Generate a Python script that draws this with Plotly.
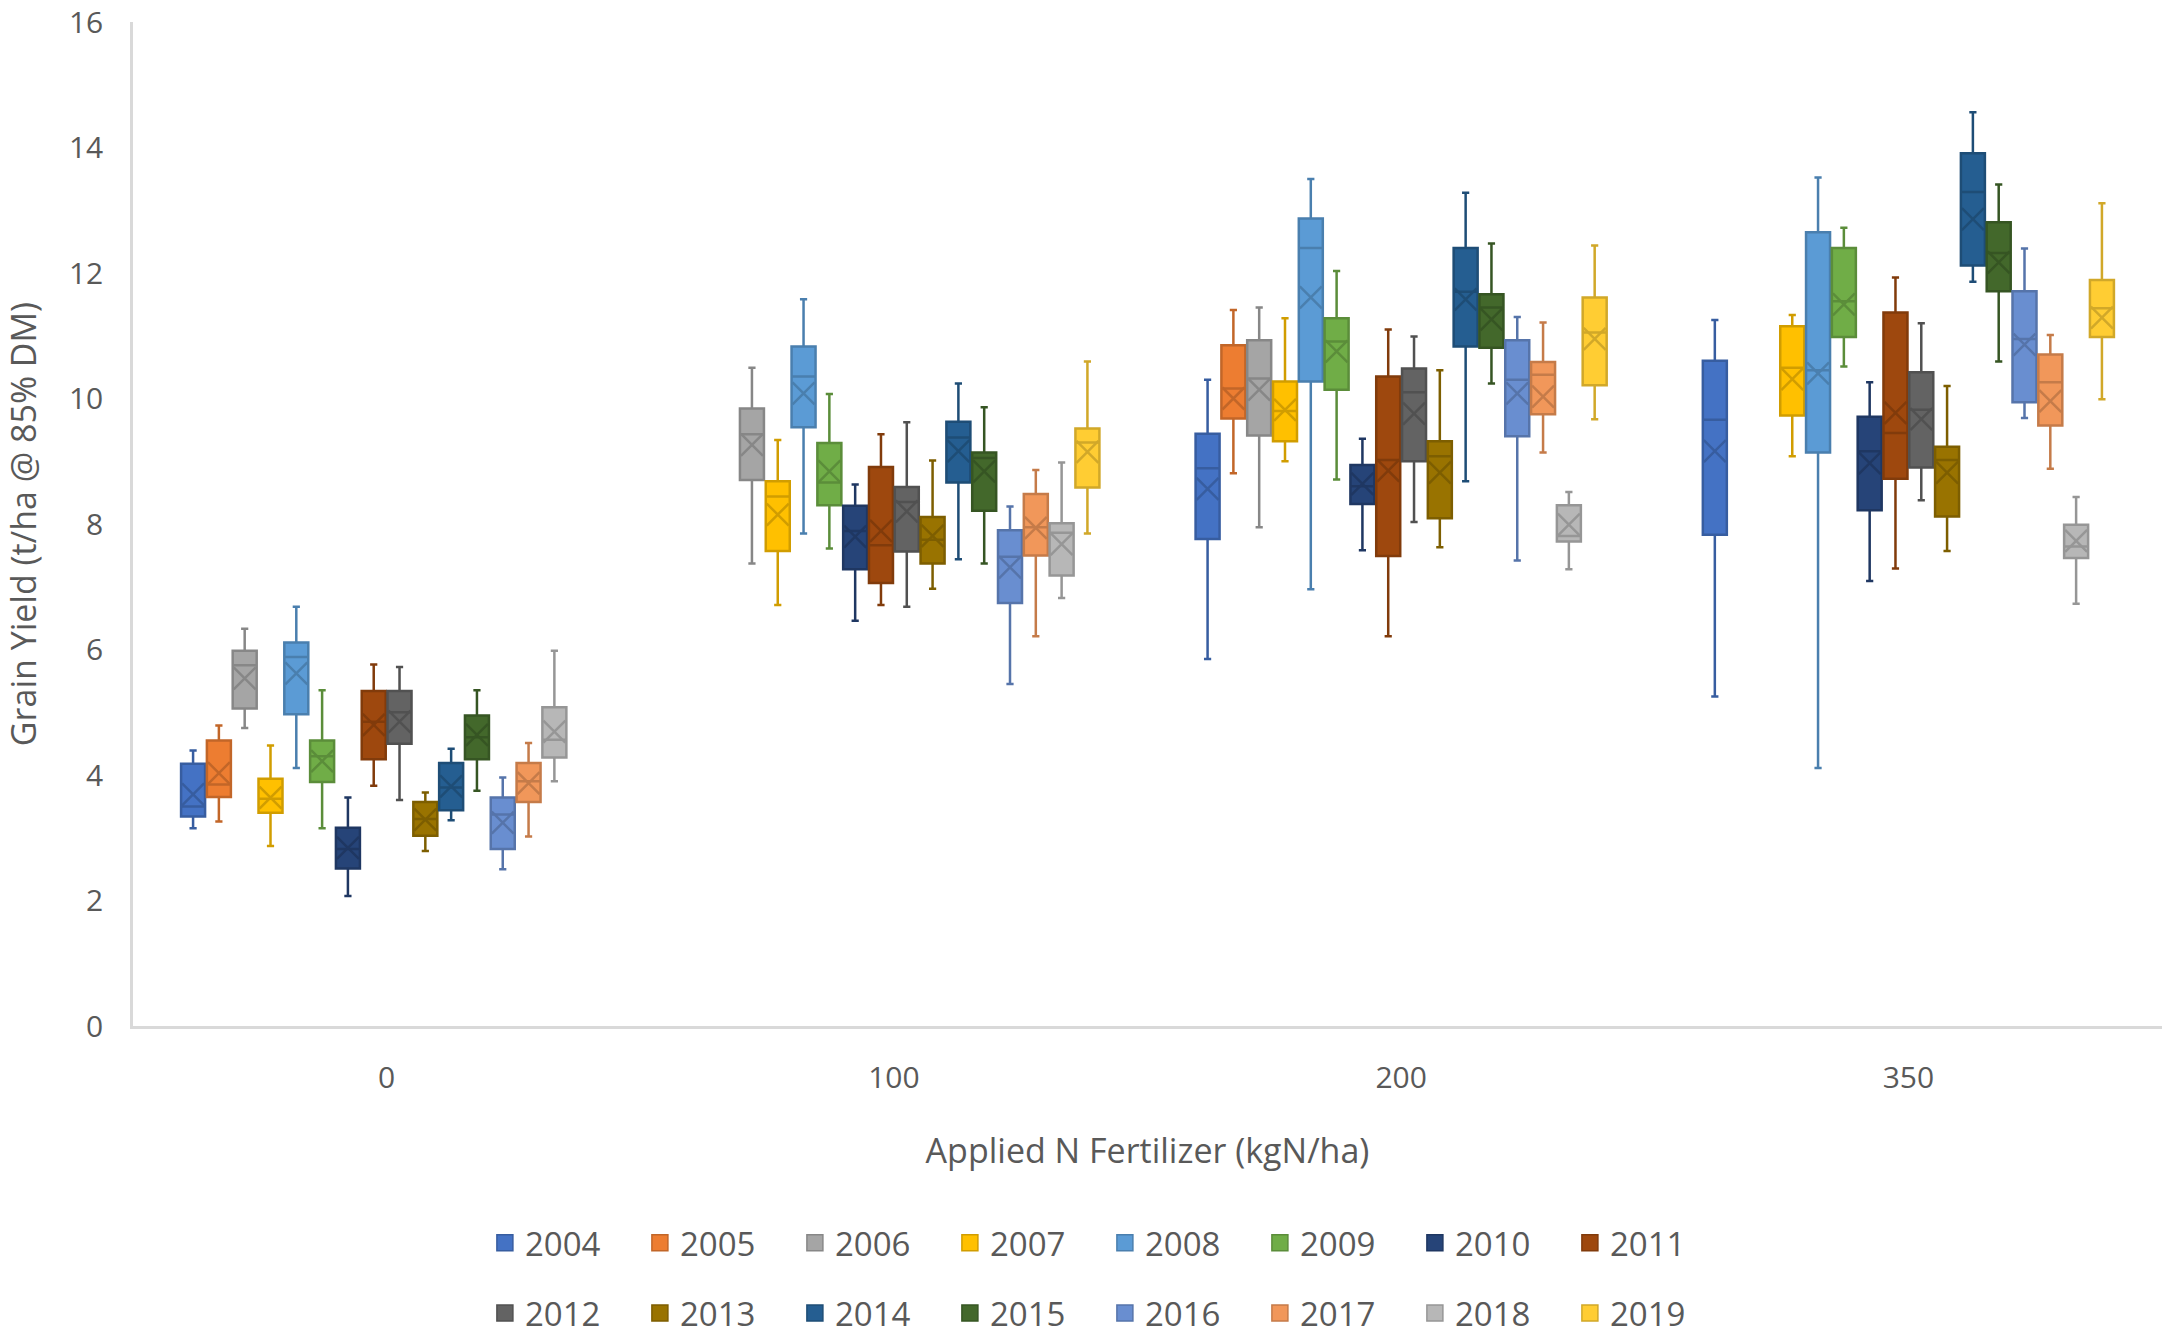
import plotly.graph_objects as go

# Applied N rates (kgN/ha) and trial years
N_RATES = ["0", "100", "200", "350"]
YEARS = [str(y) for y in range(2004, 2020)]

COLORS = [
    "#4472C4", "#ED7D31", "#A5A5A5", "#FFC000", "#5B9BD5", "#70AD47", "#264478", "#9E480E",
    "#636363", "#997300", "#255E91", "#43682B", "#698ED0", "#F1975A", "#B7B7B7", "#FFCD33",
]

# box statistics per year, one value per N rate (None = no data)
WHISKER_LOW = {
    "2004": [3.15, None, 5.85, 5.25], "2005": [3.26, None, 8.81, None],
    "2006": [4.75, 7.37, 7.95, None], "2007": [2.87, 6.71, 9.00, 9.08],
    "2008": [4.11, 7.85, 6.96, 4.11], "2009": [3.15, 7.61, 8.71, 10.51],
    "2010": [2.07, 6.46, 7.58, 7.09], "2011": [3.83, 6.71, 6.21, 7.29],
    "2012": [3.60, 6.68, 8.03, 8.38], "2013": [2.79, 6.97, 7.63, 7.57],
    "2014": [3.28, 7.44, 8.68, 11.86], "2015": [3.75, 7.37, 10.24, 10.59],
    "2016": [2.50, 5.45, 7.42, 9.69], "2017": [3.02, 6.21, 9.14, 8.88],
    "2018": [3.90, 6.82, 7.28, 6.73], "2019": [None, 7.85, 9.67, 9.99],
}
Q1 = {
    "2004": [3.34, None, 7.76, 7.83], "2005": [3.65, None, 9.68, None],
    "2006": [5.06, 8.70, 9.41, None], "2007": [3.40, 7.57, 9.32, 9.73],
    "2008": [4.97, 9.54, 10.27, 9.14], "2009": [3.89, 8.30, 10.14, 10.98],
    "2010": [2.51, 7.28, 8.32, 8.22], "2011": [4.25, 7.06, 7.49, 8.72],
    "2012": [4.50, 7.56, 9.00, 8.90], "2013": [3.03, 7.37, 8.09, 8.12],
    "2014": [3.44, 8.66, 10.83, 12.12], "2015": [4.25, 8.21, 10.81, 11.71],
    "2016": [2.82, 6.74, 9.40, 9.94], "2017": [3.57, 7.50, 9.75, 9.57],
    "2018": [4.28, 7.18, 7.72, 7.46], "2019": [None, 8.58, 10.21, 10.98],
}
MEDIAN = {
    "2004": [3.50, None, 8.89, 9.66], "2005": [3.85, None, 10.16, None],
    "2006": [5.75, 9.43, 10.32, None], "2007": [3.62, 8.44, 9.80, 10.49],
    "2008": [5.88, 10.35, 12.40, 10.45], "2009": [4.30, 8.66, 10.91, 11.55],
    "2010": [2.82, 7.89, 8.60, 9.16], "2011": [4.85, 7.66, 9.02, 9.45],
    "2012": [5.00, 8.35, 10.10, 9.82], "2013": [3.30, 7.75, 9.08, 9.02],
    "2014": [3.80, 9.38, 11.70, 13.29], "2015": [4.60, 9.05, 11.45, 12.32],
    "2016": [3.37, 7.48, 10.30, 10.95], "2017": [3.90, 7.95, 10.38, 10.26],
    "2018": [4.56, 7.86, 7.81, 7.64], "2019": [None, 9.30, 11.05, 11.44],
}
Q3 = {
    "2004": [4.18, None, 9.44, 10.60], "2005": [4.55, None, 10.85, None],
    "2006": [5.98, 9.84, 10.93, None], "2007": [3.94, 8.68, 10.27, 11.15],
    "2008": [6.11, 10.83, 12.87, 12.65], "2009": [4.55, 9.29, 11.28, 12.40],
    "2010": [3.16, 8.29, 8.94, 9.71], "2011": [5.34, 8.91, 10.35, 11.37],
    "2012": [5.34, 8.59, 10.48, 10.42], "2013": [3.57, 8.11, 9.32, 9.23],
    "2014": [4.19, 9.63, 12.40, 13.91], "2015": [4.95, 9.14, 11.66, 12.81],
    "2016": [3.64, 7.90, 10.93, 11.71], "2017": [4.19, 8.48, 10.58, 10.70],
    "2018": [5.08, 8.01, 8.30, 7.99], "2019": [None, 9.52, 11.61, 11.89],
}
WHISKER_HIGH = {
    "2004": [4.39, None, 10.30, 11.25], "2005": [4.79, None, 11.41, None],
    "2006": [6.33, 10.49, 11.45, None], "2007": [4.47, 9.34, 11.28, 11.33],
    "2008": [6.68, 11.58, 13.50, 13.52], "2009": [5.35, 10.07, 12.03, 12.72],
    "2010": [3.64, 8.63, 9.36, 10.26], "2011": [5.76, 9.43, 11.10, 11.93],
    "2012": [5.72, 9.62, 10.99, 11.20], "2013": [3.72, 9.01, 10.45, 10.20],
    "2014": [4.42, 10.24, 13.28, 14.56], "2015": [5.35, 9.86, 12.47, 13.41],
    "2016": [3.96, 8.28, 11.30, 12.39], "2017": [4.51, 8.86, 11.21, 11.01],
    "2018": [5.98, 8.98, 8.51, 8.43], "2019": [None, 10.59, 12.44, 13.11],
}
MEAN = {
    "2004": [3.69, None, 8.56, 9.16], "2005": [4.03, None, 10.00, None],
    "2006": [5.54, 9.26, 10.14, None], "2007": [3.64, 8.15, 9.82, 10.31],
    "2008": [5.62, 10.08, 11.61, 10.40], "2009": [4.22, 8.84, 10.75, 11.50],
    "2010": [2.84, 7.80, 8.64, 8.97], "2011": [4.80, 7.89, 8.85, 9.77],
    "2012": [4.85, 8.20, 9.76, 9.67], "2013": [3.29, 7.81, 8.82, 8.82],
    "2014": [3.82, 9.16, 11.58, 12.86], "2015": [4.64, 8.84, 11.26, 12.17],
    "2016": [3.24, 7.31, 10.08, 10.86], "2017": [3.87, 7.94, 10.03, 9.96],
    "2018": [4.69, 7.68, 7.99, 7.73], "2019": [None, 9.15, 10.95, 11.29],
}


def darker(hex_color, f=0.82):
    h = hex_color.lstrip("#")
    r, g, b = (int(h[k:k + 2], 16) for k in (0, 2, 4))
    return "rgb(%d,%d,%d)" % (r * f, g * f, b * f)


fig = go.Figure()

for i, year in enumerate(YEARS):
    keep = [j for j in range(len(N_RATES)) if Q1[year][j] is not None]
    xs = [N_RATES[j] for j in keep]

    def pick(d):
        return [d[year][j] for j in keep]

    edge = darker(COLORS[i])
    fig.add_trace(go.Box(
        x=xs, q1=pick(Q1), median=pick(MEDIAN), q3=pick(Q3),
        lowerfence=pick(WHISKER_LOW), upperfence=pick(WHISKER_HIGH),
        name=year, offsetgroup=year, boxpoints=False,
        fillcolor=COLORS[i], line=dict(color=edge, width=2.5),
        whiskerwidth=0.3, showlegend=False,
    ))
    # mean shown as an X, like Excel
    fig.add_trace(go.Scatter(
        x=xs, y=pick(MEAN), mode="markers", offsetgroup=year,
        marker=dict(symbol="x-thin", size=22, line=dict(color=edge, width=2.5)),
        showlegend=False, hoverinfo="skip",
    ))
    # legend swatch
    fig.add_trace(go.Scatter(
        x=[None], y=[None], mode="markers", name=year, offsetgroup=year,
        marker=dict(symbol="square", size=16, color=COLORS[i], line=dict(color=edge, width=1.5)),
        legend="legend" if i < 8 else "legend2",
    ))

legend_style = dict(
    orientation="h", x=0.479, xanchor="center", yanchor="middle",
    entrywidth=110, font=dict(size=33, color="#595959"), bgcolor="rgba(0,0,0,0)",
)
title_font = dict(family="Open Sans, sans-serif", size=34, color="#595959")

fig.update_layout(
    width=2165, height=1338,
    margin=dict(l=133, r=3, t=22, b=312, autoexpand=False),
    paper_bgcolor="white", plot_bgcolor="white",
    font=dict(family="Open Sans, sans-serif", size=30, color="#595959"),
    boxmode="group", boxgap=0.186, boxgroupgap=0.07,
    scattermode="group", scattergap=0.186,
    xaxis=dict(
        type="category", categoryorder="array", categoryarray=N_RATES,
        showline=True, linecolor="#D9D9D9", linewidth=2.5, showgrid=False,
        ticks="", ticklabelstandoff=23,
        title=dict(text="Applied N Fertilizer (kgN/ha)", standoff=44, font=title_font),
    ),
    yaxis=dict(
        range=[0, 16], dtick=2, showline=True, linecolor="#D9D9D9", linewidth=2.5,
        showgrid=False, zeroline=False, ticks="", ticklabelstandoff=21,
        ticklabeloverflow="allow",
        title=dict(text="Grain Yield (t/ha @ 85% DM)", standoff=36, font=title_font),
    ),
    legend=dict(legend_style, y=-0.216),
    legend2=dict(legend_style, y=-0.286),
)

fig.write_html("out.html", config={"displayModeBar": False},
               post_script="document.body.style.margin='0';")
